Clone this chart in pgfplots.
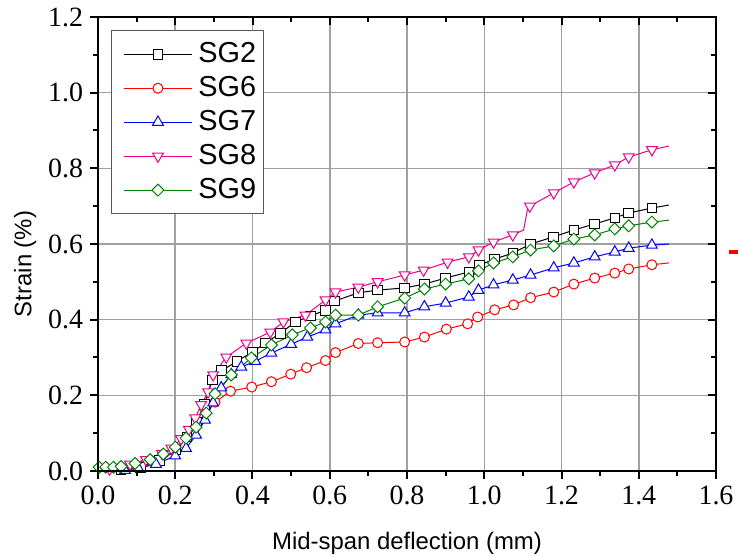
\documentclass[border=0pt]{standalone}
\usepackage{fontspec}
\setmainfont{Liberation Serif}
\setsansfont{Liberation Sans}
\newfontfamily\timesfont{Liberation Serif}
\usepackage{pgfplots}
\pgfplotsset{compat=1.18}
\definecolor{sgreen}{RGB}{0,128,0}
\definecolor{gridgray}{RGB}{160,160,160}
\begin{document}
\begin{tikzpicture}
\useasboundingbox (-49bp,-42.5bp) rectangle (320bp,235.5bp);
\begin{axis}[
  at={(0,0)}, anchor=south west,
  width=309bp, height=227bp, scale only axis,
  xmin=0, xmax=1.6, ymin=0, ymax=1.2,
  xtick={0,0.2,0.4,0.6,0.8,1.0,1.2,1.4,1.6},
  ytick={0,0.2,0.4,0.6,0.8,1.0,1.2},
  xticklabels={0.0,0.2,0.4,0.6,0.8,1.0,1.2,1.4,1.6},
  yticklabels={0.0,0.2,0.4,0.6,0.8,1.0,1.2},
  minor x tick num=1, minor y tick num=1,
  tick pos=left, tick align=outside,
  major tick length=4bp, minor tick length=2.3bp,
  every tick/.style={black, line width=1bp},
  grid=major, major grid style={gridgray, line width=0.75bp},
  axis line style={line width=1.2bp},
  tick label style={font=\timesfont\fontsize{14}{14}\selectfont},
  xlabel={Mid-span deflection (mm)},
  ylabel={Strain (\%)},
  xlabel style={font=\sffamily\fontsize{12}{12}\selectfont, at={(axis description cs:0.5,-0.1586)}, anchor=center},
  ylabel style={font=\sffamily\fontsize{12}{12}\selectfont, at={(axis description cs:-0.118,0.456)}, anchor=center, rotate=0},
  legend image code/.code={\path (-4.5bp,0bp); \draw[mark repeat=2,mark phase=2] plot coordinates {(0bp,0bp) (17bp,0bp) (34bp,0bp)};},
  legend style={at={(axis description cs:0.021,0.971)}, anchor=north west, draw=black!65, line width=0.5bp, fill=white,
    font=\sffamily\fontsize{14.5}{14.5}\selectfont, inner xsep=1.5bp, inner ysep=4bp, row sep=1.4bp, column sep=1bp,
    nodes={inner sep=2bp}},
  legend cell align=left,
]
\addplot[black, line width=0.5bp, mark=square*, mark size=2.4bp, mark options={fill=white, solid}, forget plot,
  mark indices={1,2,3,4,5,6,7,8,9,10,11,12,13,14,15,16,17,18,19,20,21,22,23,24,25,26,27,28,29,30,31,32,33}]
coordinates {(0.06,0.003)(0.11,0.010)(0.16,0.028)(0.20,0.055)(0.23,0.090)(0.255,0.130)(0.275,0.175)(0.296,0.240)(0.32,0.265)(0.36,0.290)(0.40,0.315)(0.433,0.338)(0.472,0.364)(0.511,0.394)(0.55,0.410)(0.589,0.425)(0.612,0.449)(0.674,0.471)(0.724,0.478)(0.794,0.484)(0.845,0.494)(0.900,0.510)(0.960,0.526)(0.988,0.545)(1.027,0.560)(1.074,0.576)(1.120,0.600)(1.180,0.619)(1.232,0.637)(1.286,0.653)(1.338,0.669)(1.374,0.682)(1.434,0.695)(1.478,0.703)};
\addplot[red, line width=0.5bp, mark=*, mark size=2.5bp, mark options={fill=white, solid}, forget plot,
  mark indices={8,9,10,11,12,13,14,15,16,17,18,19,20,21,22,23,24,25,26,27,28,29,30,31}]
coordinates {(0.06,0.002)(0.12,0.010)(0.17,0.030)(0.205,0.060)(0.235,0.095)(0.258,0.128)(0.28,0.155)(0.303,0.182)(0.343,0.211)(0.398,0.222)(0.449,0.236)(0.499,0.256)(0.54,0.273)(0.589,0.292)(0.615,0.313)(0.674,0.337)(0.724,0.339)(0.794,0.341)(0.845,0.354)(0.902,0.375)(0.957,0.389)(0.983,0.407)(1.027,0.426)(1.076,0.439)(1.120,0.458)(1.180,0.473)(1.232,0.494)(1.286,0.510)(1.338,0.523)(1.374,0.534)(1.434,0.545)(1.478,0.550)};
\addplot[blue, line width=0.5bp, mark=triangle*, mark size=3.1bp, mark options={fill=white, solid}, forget plot,
  mark indices={1,2,3,4,5,6,7,8,9,10,11,12,13,14,15,16,17,18,19,20,21,22,23,24,25,26,27,28,29,30,31,32,33}]
coordinates {(0.07,0.002)(0.104,0.008)(0.15,0.018)(0.20,0.040)(0.228,0.060)(0.254,0.095)(0.277,0.135)(0.298,0.180)(0.319,0.220)(0.345,0.255)(0.371,0.275)(0.407,0.290)(0.449,0.312)(0.50,0.335)(0.542,0.354)(0.589,0.373)(0.615,0.389)(0.674,0.412)(0.724,0.418)(0.794,0.418)(0.845,0.434)(0.900,0.444)(0.960,0.460)(0.985,0.478)(1.024,0.492)(1.074,0.505)(1.120,0.518)(1.180,0.537)(1.232,0.550)(1.286,0.566)(1.338,0.579)(1.374,0.589)(1.434,0.597)(1.478,0.600)};
\addplot[magenta, line width=0.5bp, mark=triangle*, mark size=3.1bp, mark options={fill=white, solid, rotate=180}, forget plot,
  mark indices={1,2,3,4,5,6,7,8,9,10,11,12,13,14,15,16,17,18,19,20,21,22,23,24,25,26,27,30,31,32,33,34,35,36}]
coordinates {(0.03,0.005)(0.083,0.018)(0.124,0.030)(0.166,0.046)(0.19,0.060)(0.215,0.085)(0.235,0.110)(0.252,0.140)(0.267,0.175)(0.285,0.209)(0.298,0.254)(0.332,0.301)(0.384,0.338)(0.446,0.367)(0.480,0.394)(0.537,0.412)(0.589,0.452)(0.615,0.473)(0.674,0.486)(0.724,0.500)(0.794,0.518)(0.843,0.531)(0.905,0.552)(0.960,0.566)(0.985,0.584)(1.024,0.605)(1.074,0.624)(1.102,0.637)(1.113,0.698)(1.118,0.700)(1.180,0.735)(1.232,0.764)(1.286,0.788)(1.338,0.809)(1.374,0.830)(1.434,0.849)(1.478,0.859)};
\addplot[sgreen, line width=0.5bp, mark=square*, mark size=2.1bp, mark options={fill=white, solid, rotate=45}, forget plot,
  mark indices={1,2,3,4,5,6,7,8,9,10,11,12,13,14,15,16,17,18,19,20,21,22,23,24,25,26,27,28,29,30,31,32,33,34,35}]
coordinates {(0.003,0.010)(0.02,0.010)(0.04,0.010)(0.06,0.012)(0.096,0.020)(0.135,0.030)(0.169,0.045)(0.20,0.063)(0.228,0.087)(0.254,0.116)(0.28,0.153)(0.303,0.204)(0.345,0.254)(0.397,0.299)(0.449,0.333)(0.503,0.360)(0.55,0.378)(0.589,0.394)(0.615,0.412)(0.674,0.412)(0.724,0.434)(0.794,0.457)(0.845,0.481)(0.900,0.494)(0.960,0.508)(0.985,0.529)(1.024,0.550)(1.074,0.566)(1.120,0.584)(1.180,0.595)(1.232,0.613)(1.286,0.624)(1.338,0.640)(1.374,0.648)(1.434,0.658)(1.478,0.663)};
\addlegendimage{black, line width=0.5bp, mark=square*, mark size=2.4bp, mark options={fill=white, solid}}
\addlegendentry{SG2}
\addlegendimage{red, line width=0.5bp, mark=*, mark size=2.5bp, mark options={fill=white, solid}}
\addlegendentry{SG6}
\addlegendimage{blue, line width=0.5bp, mark=triangle*, mark size=3.1bp, mark options={fill=white, solid}}
\addlegendentry{SG7}
\addlegendimage{magenta, line width=0.5bp, mark=triangle*, mark size=3.1bp, mark options={fill=white, solid, rotate=180}}
\addlegendentry{SG8}
\addlegendimage{sgreen, line width=0.5bp, mark=square*, mark size=2.1bp, mark options={fill=white, solid, rotate=45}}
\addlegendentry{SG9}
\end{axis}
\begin{axis}[
  at={(0,0)}, anchor=south west,
  width=309bp, height=227bp, scale only axis,
  xmin=0, xmax=1.6, ymin=0, ymax=1.2,
  xtick={0,0.2,0.4,0.6,0.8,1.0,1.2,1.4,1.6},
  ytick={0,0.2,0.4,0.6,0.8,1.0,1.2},
  minor x tick num=1, minor y tick num=1,
  tick pos=right, tick align=inside,
  major tick length=4bp, minor tick length=2.3bp,
  every tick/.style={black, line width=1bp},
  axis line style={line width=1.2bp},
  xticklabels={}, yticklabels={},
]
\end{axis}
\fill[red] (315.5bp,108.5bp) rectangle (320bp,110.5bp);
\end{tikzpicture}
\end{document}
